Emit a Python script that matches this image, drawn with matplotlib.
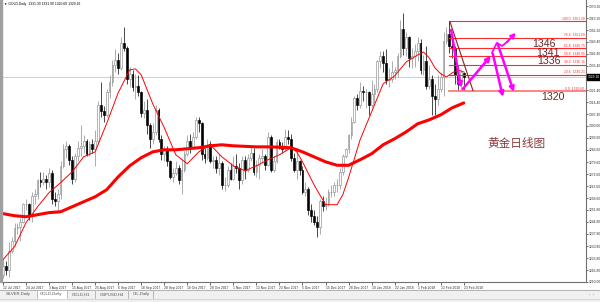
import matplotlib
matplotlib.use("Agg")
import matplotlib.pyplot as plt
import matplotlib.transforms as mtransforms
from matplotlib.patches import Rectangle
from matplotlib.lines import Line2D

# GOLD daily candles, 12 Jul 2017 .. 23 Feb 2018 (one entry per bar)
opens = [1214, 1219, 1217, 1228, 1234, 1241, 1242, 1245, 1255, 1255,
         1249, 1260, 1261, 1269, 1268, 1270, 1268, 1273, 1258, 1257,
         1261, 1277, 1287, 1289, 1281, 1270, 1283, 1288, 1289, 1292,
         1284, 1290, 1287, 1292, 1313, 1309, 1307, 1320, 1326, 1336,
         1339, 1334, 1349, 1346, 1328, 1331, 1323, 1324, 1320, 1308,
         1310, 1301, 1293, 1297, 1310, 1293, 1284, 1287, 1280, 1271,
         1273, 1276, 1269, 1275, 1284, 1292, 1288, 1294, 1304, 1302,
         1284, 1282, 1290, 1280, 1281, 1276, 1279, 1266, 1266, 1275,
         1270, 1277, 1276, 1269, 1281, 1275, 1282, 1285, 1274, 1278,
         1282, 1283, 1278, 1294, 1275, 1280, 1291, 1288, 1287, 1294,
         1293, 1282, 1275, 1280, 1275, 1262, 1264, 1252, 1248, 1245,
         1242, 1257, 1254, 1255, 1262, 1262, 1266, 1266, 1274, 1283,
         1287, 1295, 1303, 1317, 1313, 1321, 1320, 1320, 1313, 1319,
         1322, 1338, 1341, 1337, 1327, 1328, 1332, 1333, 1341, 1357,
         1346, 1352, 1340, 1341, 1344, 1349, 1333, 1338, 1324, 1328,
         1318, 1316, 1322, 1329, 1350, 1354, 1347, 1346, 1330, 1325,
         1331.30]
highs = [1224, 1222, 1233, 1236, 1244, 1244, 1247, 1256, 1258, 1256,
         1262, 1264, 1270, 1274, 1274, 1272, 1276, 1275, 1262, 1264,
         1280, 1290, 1292, 1290, 1283, 1285, 1292, 1301, 1295, 1293,
         1292, 1293, 1298, 1315, 1326, 1312, 1322, 1330, 1339, 1345,
         1343, 1352, 1358, 1347, 1335, 1333, 1331, 1330, 1321, 1315,
         1316, 1302, 1302, 1313, 1311, 1295, 1289, 1289, 1281, 1276,
         1280, 1278, 1281, 1286, 1295, 1296, 1297, 1306, 1306, 1303,
         1288, 1293, 1292, 1283, 1283, 1284, 1280, 1271, 1277, 1279,
         1283, 1284, 1279, 1283, 1283, 1284, 1289, 1288, 1281, 1284,
         1287, 1284, 1297, 1295, 1283, 1293, 1293, 1291, 1299, 1298,
         1296, 1285, 1288, 1281, 1277, 1268, 1265, 1255, 1252, 1248,
         1258, 1260, 1259, 1264, 1266, 1268, 1270, 1276, 1284, 1288,
         1296, 1306, 1318, 1319, 1326, 1324, 1322, 1321, 1327, 1325,
         1339, 1344, 1344, 1345, 1334, 1338, 1335, 1343, 1362, 1366,
         1355, 1353, 1346, 1348, 1352, 1351, 1342, 1347, 1336, 1330,
         1325, 1330, 1332, 1355, 1358, 1361.3, 1350, 1347, 1336, 1333,
         1331.90]
lows = [1212, 1214, 1213, 1227, 1231, 1238, 1234, 1244, 1252, 1246,
        1245, 1255, 1258, 1265, 1266, 1264, 1265, 1255, 1254, 1251,
        1258, 1276, 1282, 1278, 1267, 1268, 1280, 1283, 1285, 1283,
        1283, 1285, 1277, 1290, 1306, 1303, 1306, 1317, 1324, 1332,
        1331, 1333, 1344, 1325, 1323, 1321, 1316, 1318, 1306, 1305,
        1296, 1288, 1290, 1295, 1291, 1281, 1280, 1277, 1270, 1268,
        1272, 1267, 1261, 1274, 1283, 1285, 1287, 1293, 1297, 1281,
        1279, 1281, 1279, 1276, 1273, 1272, 1264, 1263, 1265, 1269,
        1269, 1273, 1264, 1267, 1270, 1274, 1280, 1272, 1271, 1270,
        1279, 1275, 1277, 1274, 1274, 1279, 1287, 1285, 1286, 1290,
        1280, 1274, 1270, 1272, 1261, 1260, 1249, 1245, 1243, 1236,
        1238, 1251, 1252, 1254, 1259, 1260, 1262, 1264, 1272, 1282,
        1285, 1293, 1302, 1310, 1311, 1315, 1311, 1307, 1311, 1314,
        1320, 1334, 1332, 1325, 1323, 1326, 1328, 1329, 1340, 1342,
        1341, 1335, 1334, 1335, 1338, 1331, 1330, 1322, 1322, 1307,
        1307, 1313, 1320, 1318, 1348, 1343, 1340, 1325, 1321, 1322,
        1320.60]
closes = [1219, 1217, 1228, 1234, 1241, 1242, 1245, 1255, 1255, 1249,
          1260, 1261, 1269, 1268, 1270, 1268, 1273, 1258, 1257, 1261,
          1277, 1287, 1289, 1281, 1270, 1283, 1288, 1289, 1292, 1284,
          1290, 1287, 1292, 1313, 1309, 1307, 1320, 1326, 1336, 1339,
          1334, 1349, 1346, 1328, 1331, 1323, 1324, 1320, 1308, 1310,
          1301, 1293, 1297, 1310, 1293, 1284, 1287, 1280, 1271, 1273,
          1276, 1269, 1275, 1284, 1292, 1288, 1294, 1304, 1302, 1284,
          1282, 1290, 1280, 1281, 1276, 1279, 1266, 1266, 1275, 1270,
          1277, 1276, 1269, 1281, 1275, 1282, 1285, 1274, 1278, 1282,
          1283, 1278, 1294, 1275, 1280, 1291, 1288, 1287, 1294, 1293,
          1282, 1275, 1280, 1275, 1262, 1264, 1252, 1248, 1245, 1242,
          1257, 1254, 1255, 1262, 1262, 1266, 1266, 1274, 1283, 1287,
          1295, 1303, 1317, 1313, 1321, 1320, 1320, 1313, 1319, 1322,
          1338, 1341, 1337, 1327, 1328, 1332, 1333, 1341, 1357, 1346,
          1352, 1340, 1341, 1344, 1349, 1333, 1338, 1324, 1328, 1318,
          1316, 1322, 1329, 1350, 1354, 1347, 1346, 1330, 1325, 1332,
          1329.16]

# moving averages (bar index, price)
ma_fast_idx = [0, 4, 8, 12, 16, 20, 24, 28, 32, 36, 40, 44, 46, 48, 52, 56, 60,
               64, 68, 72, 76, 80, 84, 88, 92, 96, 100, 102, 104, 108, 112, 116,
               118, 120, 124, 128, 132, 136, 140, 144, 146, 148, 150, 152, 154,
               156, 158, 160]
ma_fast = [1222.9, 1230.4, 1244.4, 1253.6, 1261.8, 1267.6, 1273.9, 1282.6,
           1285.5, 1302.0, 1319.8, 1333.1, 1333.7, 1330.2, 1313.4, 1299.5,
           1283.8, 1278.6, 1285.5, 1289.6, 1282.6, 1277.4, 1274.5, 1277.4,
           1280.9, 1283.8, 1287.9, 1285.5, 1279.7, 1266.4, 1254.8, 1254.8,
           1260.6, 1270.5, 1292.5, 1308.7, 1325.0, 1329.6, 1337.7, 1341.8,
           1343.5, 1340.1, 1334.3, 1330.8, 1329.0, 1331.4, 1333.1, 1331.9]
ma_slow_idx = [0, 4, 8, 12, 16, 20, 24, 28, 32, 36, 40, 44, 48, 52, 56, 60, 64,
               68, 72, 76, 80, 84, 88, 92, 96, 100, 104, 108, 112, 116, 120,
               124, 128, 132, 136, 140, 144, 148, 152, 156, 160]
ma_slow = [1249.6, 1248.4, 1247.8, 1249.0, 1250.2, 1250.7, 1253.6, 1256.5,
           1259.4, 1263.5, 1271.0, 1277.4, 1282.1, 1285.5, 1286.7, 1286.7,
           1287.3, 1287.9, 1289.0, 1289.6, 1289.0, 1288.7, 1288.4, 1288.4,
           1288.2, 1287.9, 1285.5, 1282.6, 1279.7, 1277.7, 1277.7, 1280.9,
           1284.4, 1289.6, 1293.1, 1297.1, 1301.8, 1304.1, 1307.0, 1311.1,
           1313.9]

date_labels = ["12 Jul 2017", "24 Jul 2017", "3 Aug 2017", "15 Aug 2017",
               "25 Aug 2017", "6 Sep 2017", "18 Sep 2017", "28 Sep 2017",
               "10 Oct 2017", "20 Oct 2017", "1 Nov 2017", "13 Nov 2017",
               "23 Nov 2017", "5 Dec 2017", "15 Dec 2017", "28 Dec 2017",
               "10 Jan 2018", "22 Jan 2018", "1 Feb 2018", "13 Feb 2018",
               "23 Feb 2018"]
price_ticks = [1370.20, 1363.20, 1356.20, 1349.40, 1342.40, 1335.40, 1321.40,
               1314.40, 1307.40, 1300.60, 1293.60, 1286.60, 1279.60, 1272.60,
               1265.60, 1258.60, 1251.80, 1244.80, 1237.80, 1230.80, 1223.80,
               1216.80, 1210.00]

# fibonacci retracement drawn on the last swing
fib_high = 1361.30
fib_low = 1320.60
fib_levels = [0.0, 23.6, 38.2, 50.0, 61.8, 76.4, 100.0]
fib_start = 155

# hand-drawn annotations (bar index, price)
trend_line = [(155.2, 1361.1), (163.2, 1321.1)]
arrows = [((155.6, 1356.3), (159.0, 1322.7)),
          ((159.7, 1322.1), (169.4, 1341.2)),
          ((170.1, 1342.4), (173.6, 1317.4)),
          ((171.9, 1347.6), (177.4, 1320.3))]
zigzag = [(169.8, 1343.0), (171.5, 1348.8), (173.3, 1347.0), (175.0, 1349.3)]
zigzag_end = (178.1, 1354.6)
thin_up = [(159.4, 1321.5), (168.8, 1340.6)]
target_labels = ["1346", "1341", "1336", "1320"]
target_pos = [(183.9, 1348.4), (185.1, 1343.1), (185.4, 1338.0), (186.8, 1317.2)]
chart_note = "黄金日线图"
note_pos = (168.1, 1290.5)

W, H = 600, 302
fig = plt.figure(figsize=(W / 100, H / 100), dpi=100)
fig.patch.set_facecolor("white")
ax = fig.add_axes([2 / W, 20 / H, 584 / W, 282 / H])
ax.set_xlim(-0.35, 202.45)
ax.set_ylim(1209.9, 1373.7)
ax.set_facecolor("white")

tiny = {"family": "Liberation Sans", "size": 2.4}
small = {"family": "Liberation Sans", "size": 3.0}

# candles
n = len(closes)
for i in range(n):
    o, h, l, c = opens[i], highs[i], lows[i], closes[i]
    bull = c >= o
    col = "#8c8c8c" if bull else "black"
    ax.vlines(i, l, h, color=col, lw=0.5, zorder=2)
    bot = min(o, c)
    ht = max(abs(c - o), 0.35)
    ax.bar(i, ht, bottom=bot, width=0.62, color="white" if bull else "black",
           edgecolor=col, linewidth=0.45, zorder=3)

# moving averages
ax.plot(ma_slow_idx, ma_slow, color="#ff0000", lw=2.2, zorder=4,
        solid_capstyle="round")
ax.plot(ma_fast_idx, ma_fast, color="#ff0000", lw=0.7, zorder=4)

# current price line
ax.axhline(closes[-1], color="#c8c8c8", lw=0.6, zorder=1)

# fibonacci levels
for lv in fib_levels:
    val = fib_low + (fib_high - fib_low) * lv / 100
    lw = 1.3 if lv == 0 else 0.8
    colr = "#ff7a7a" if lv == 0 else "#ff2a2a"
    ax.plot([fib_start, ax.get_xlim()[1]], [val, val], color=colr, lw=lw,
            zorder=5)
    ax.text(201.9, val + 0.3, "%.1f  %.2f" % (lv, val), color="#ff2a2a",
            ha="right", va="bottom", fontdict=tiny, zorder=6)

ax.plot([p[0] for p in trend_line], [p[1] for p in trend_line],
        color="#8b2020", lw=0.8, zorder=6)

# magenta arrows
mag = "#ff00ff"
ax.plot([p[0] for p in thin_up], [p[1] for p in thin_up], color=mag, lw=0.8,
        zorder=7)
for s, e in arrows:
    ax.annotate("", xy=e, xytext=s,
                arrowprops=dict(arrowstyle="->", color=mag, lw=1.8,
                                mutation_scale=7, shrinkA=0, shrinkB=0),
                zorder=7)
ax.plot([p[0] for p in zigzag], [p[1] for p in zigzag], color=mag, lw=1.3,
        zorder=7)
ax.annotate("", xy=zigzag_end, xytext=zigzag[-1],
            arrowprops=dict(arrowstyle="->", color=mag, lw=1.5,
                            mutation_scale=7, shrinkA=0, shrinkB=0), zorder=7)

for t, (x, y) in zip(target_labels, target_pos):
    ax.text(x, y, t, color="#6b2424", fontsize=7.6, family="Liberation Sans",
            ha="left", va="center", zorder=8)
ax.text(note_pos[0], note_pos[1], chart_note, color="#8b3a3a", fontsize=8.4,
        family=["Noto Sans CJK SC", "DejaVu Sans"], ha="left", va="center")

# title
ax.text(0.003, 0.993, "\u25bc GOLD,Daily  1331.30 1331.90 1320.60 1329.16",
        transform=ax.transAxes, ha="left", va="top", color="black",
        fontdict=tiny)

# axes styling
for side in ["left", "top"]:
    ax.spines[side].set_visible(False)
for side in ["right", "bottom"]:
    ax.spines[side].set_color("#707070")
    ax.spines[side].set_linewidth(0.8)
ax.yaxis.tick_right()
ax.set_yticks(price_ticks)
ax.set_yticklabels(["%.2f" % v for v in price_ticks], fontdict=tiny)
ax.tick_params(axis="y", length=1.5, width=0.5, pad=0.8, colors="#303030")
ax.set_xticks(range(0, n, 8))
ax.set_xticklabels(date_labels, fontdict=tiny, ha="left")
ax.tick_params(axis="x", length=2, width=0.5, pad=1.2, colors="#303030")

# current price box
trans = mtransforms.blended_transform_factory(ax.transAxes, ax.transData)
ax.text(1.003, closes[-1], "%.2f" % closes[-1], transform=trans, color="white",
        ha="left", va="center", fontdict=tiny, clip_on=False,
        bbox=dict(boxstyle="square,pad=0.3", fc="black", ec="black"))

# left gray strip
fig.patches.append(Rectangle((0, 20 / H), 2 / W, 282 / H,
                             transform=fig.transFigure, color="#a0a0a0"))

# symbol tabs at the bottom
fig.patches.append(Rectangle((0, 0), 1, 12 / H, transform=fig.transFigure,
                             color="#f0f0f0", zorder=0))
fig.lines.append(Line2D([0, 1], [12 / H, 12 / H], transform=fig.transFigure,
                        color="#a8a8a8", lw=0.6))
fig.lines.append(Line2D([0, 1], [3 / H, 3 / H], transform=fig.transFigure,
                        color="#d0d0d0", lw=0.6))
fig.patches.append(Rectangle((37 / W, 3 / H), 30 / W, 9 / H,
                             transform=fig.transFigure, color="white"))
tabs = ["SILVER,Daily", "GOLD,Daily", "GOLD,H1", "GBPUSD,H4", "OIL,Daily"]
tab_x = [6, 40, 72, 100, 133]
tab_sep = [37, 67, 95, 128, 153]
for t, x in zip(tabs, tab_x):
    fig.text(x / W, 7.5 / H, t, ha="left", va="center", color="#505050",
             fontdict=small)
for x in tab_sep:
    fig.lines.append(Line2D([x / W, x / W], [4 / H, 11 / H],
                            transform=fig.transFigure, color="#a0a0a0", lw=0.5))
fig.text(589 / W, 7.5 / H, "\u2039  \u203a", ha="left", va="center",
         color="#808080", fontdict=small)

fig.savefig("out.png", dpi=100)
